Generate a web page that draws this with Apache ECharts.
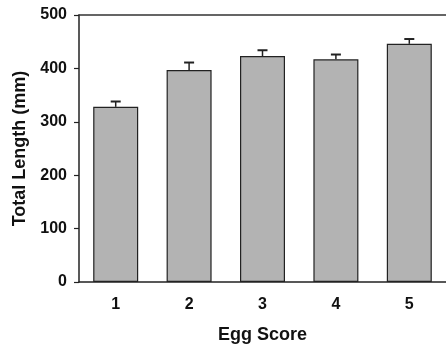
<!DOCTYPE html>
<html><head><meta charset="utf-8">
<script src="https://cdn.jsdelivr.net/npm/echarts@6/dist/echarts.min.js"></script>
<style>html,body{margin:0;padding:0;background:#fff}#c{width:446px;height:349px}</style>
</head><body><div id="c"></div>
<script>
const categories = ['1', '2', '3', '4', '5'];
const means = [328, 397, 423, 417, 446];
const errors = [10, 14, 11, 9, 9];
const yTicks = [0, 100, 200, 300, 400, 500];

const chart = echarts.init(document.getElementById('c'));
const font = 'Liberation Sans, Arial, sans-serif';
chart.setOption({
  animation: false,
  grid: { left: 79, top: 15, width: 373, height: 268, containLabel: false },
  xAxis: [{
    type: 'category', data: categories,
    name: 'Egg Score', nameLocation: 'middle', nameGap: 44,
    nameTextStyle: { fontFamily: font, fontWeight: 'bold', fontSize: 18, color: '#111' },
    axisLine: { lineStyle: { color: '#222', width: 1.5 } },
    axisTick: { alignWithLabel: true, length: 5, lineStyle: { color: '#222', width: 1.2 } },
    axisLabel: { fontFamily: font, fontWeight: 'bold', fontSize: 16, color: '#111', margin: 15 }
  }, {
    type: 'category', data: categories, position: 'top',
    axisLine: { show: true, lineStyle: { color: '#333', width: 1.5 } },
    axisTick: { show: false }, axisLabel: { show: false }
  }],
  yAxis: {
    type: 'value', min: yTicks[0], max: yTicks[yTicks.length - 1], interval: 100,
    name: 'Total Length (mm)', nameLocation: 'middle', nameGap: 50,
    nameTextStyle: { fontFamily: font, fontWeight: 'bold', fontSize: 18, color: '#111' },
    axisLine: { show: true, lineStyle: { color: '#222', width: 1.5 } },
    axisTick: { show: true, length: 5, lineStyle: { color: '#222', width: 1.2 } },
    splitLine: { show: false },
    axisLabel: { fontFamily: font, fontWeight: 'bold', fontSize: 16, color: '#111', margin: 12 }
  },
  series: [
    {
      type: 'bar', data: means, barWidth: 45,
      itemStyle: { color: '#b3b3b3', borderColor: '#222', borderWidth: 1.2 }
    },
    {
      type: 'custom',
      data: means.map((m, i) => [i, m, m + errors[i]]),
      renderItem: function (params, api) {
        const base = api.coord([api.value(0), api.value(1)]);
        const top = api.coord([api.value(0), api.value(2)]);
        const hw = 5;
        return {
          type: 'group',
          children: [
            { type: 'line', shape: { x1: base[0], y1: base[1], x2: top[0], y2: top[1] }, style: { stroke: '#222', lineWidth: 1.5 } },
            { type: 'line', shape: { x1: top[0] - hw, y1: top[1], x2: top[0] + hw, y2: top[1] }, style: { stroke: '#222', lineWidth: 2 } }
          ]
        };
      },
      z: 3
    }
  ]
});
</script></body></html>
